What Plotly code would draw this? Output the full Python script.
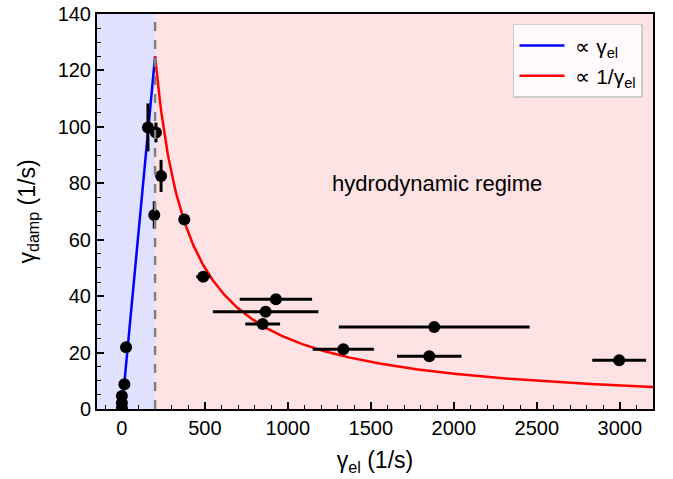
import plotly.graph_objects as go
import numpy as np

# data points: gamma_el, gamma_damp, x error, y error
gamma_el = [0, 0, 0, 15, 25, 157, 205, 236, 195, 376, 490, 928, 866, 848, 1334, 1882, 1852, 2996]
gamma_damp = [4.6, 2.1, 0.4, 8.8, 21.9, 99.8, 98.0, 82.6, 68.8, 67.2, 46.9, 38.9, 34.5, 30.1, 21.2, 29.1, 18.7, 17.3]
x_err = [0, 0, 0, 0, 0, 0, 0, 0, 0, 0, 42, 218, 318, 105, 184, 575, 194, 162]
y_err = [0, 0, 0, 0, 0, 8.5, 3.5, 5.7, 4.8, 0, 0, 0, 0, 0, 0, 0, 0, 0]

# model parameters
x_cross = 200
peak = 125
x_min, x_max = -150, 3200
y_min, y_max = 0, 140

lin_x = [0, x_cross]
lin_y = [0, peak]
inv_x = np.linspace(x_cross, x_max, 400)
inv_y = peak * x_cross / inv_x

FONT = "Liberation Sans, Arial, sans-serif"

fig = go.Figure()
fig.add_shape(type="rect", xref="x", yref="y", x0=x_min, x1=x_cross, y0=y_min, y1=y_max,
              fillcolor="rgba(0,0,255,0.12)", line_width=0, layer="below")
fig.add_shape(type="rect", xref="x", yref="y", x0=x_cross, x1=x_max, y0=y_min, y1=y_max,
              fillcolor="rgba(255,0,20,0.115)", line_width=0, layer="below")

fig.add_trace(go.Scatter(x=lin_x, y=lin_y, mode="lines", line=dict(color="blue", width=2.5),
                         name=" ∝ γ<sub>el</sub>"))
fig.add_trace(go.Scatter(x=inv_x, y=inv_y, mode="lines", line=dict(color="red", width=2.5),
                         name=" ∝ 1/γ<sub>el</sub>"))
fig.add_shape(type="line", xref="x", yref="y", x0=x_cross, x1=x_cross, y0=y_min, y1=y_max,
              line=dict(color="gray", width=2.5, dash="dash"))
fig.add_trace(go.Scatter(x=gamma_el, y=gamma_damp, mode="markers",
                         marker=dict(color="black", size=12),
                         error_x=dict(type="data", array=x_err, color="black", thickness=3, width=0),
                         error_y=dict(type="data", array=y_err, color="black", thickness=3, width=0),
                         showlegend=False))

fig.add_annotation(x=1900, y=80, xref="x", yref="y", text="hydrodynamic regime",
                   showarrow=False, font=dict(size=22, color="black", family=FONT))

axis_common = dict(showline=True, linecolor="black", linewidth=2, mirror=True, ticks="inside",
                   ticklen=7, tickwidth=1.5, tickcolor="black", showgrid=False, zeroline=False,
                   automargin=False,
                   tickfont=dict(size=20, color="black", family=FONT))
fig.update_xaxes(range=[x_min, x_max], tickvals=[0, 500, 1000, 1500, 2000, 2500, 3000],
                 minor=dict(dtick=100, tick0=0, ticks="inside", ticklen=4, tickcolor="black", tickwidth=1.2),
                 title=dict(text="γ<sub>el</sub> (1/s)", font=dict(size=23, color="black", family=FONT), standoff=14),
                 **axis_common)
fig.update_yaxes(range=[y_min, y_max], dtick=20,
                 minor=dict(dtick=5, tick0=0, ticks="inside", ticklen=4, tickcolor="black", tickwidth=1.2),
                 title=dict(text="γ<sub>damp</sub> (1/s)", font=dict(size=23, color="black", family=FONT), standoff=16),
                 **axis_common)

fig.update_layout(width=673, height=479, margin=dict(l=97, r=20, t=14, b=70),
                  plot_bgcolor="white", paper_bgcolor="white",
                  font=dict(family=FONT, color="black"),
                  legend=dict(x=0.982, y=0.975, xanchor="right", yanchor="top",
                              bgcolor="rgba(255,255,255,0.85)", bordercolor="#cccccc", borderwidth=1.5,
                              itemwidth=45,
                              font=dict(size=21, family=FONT)))

fig.write_html("out.html", config={"displayModeBar": False},
               post_script="document.body.style.margin='0';")
